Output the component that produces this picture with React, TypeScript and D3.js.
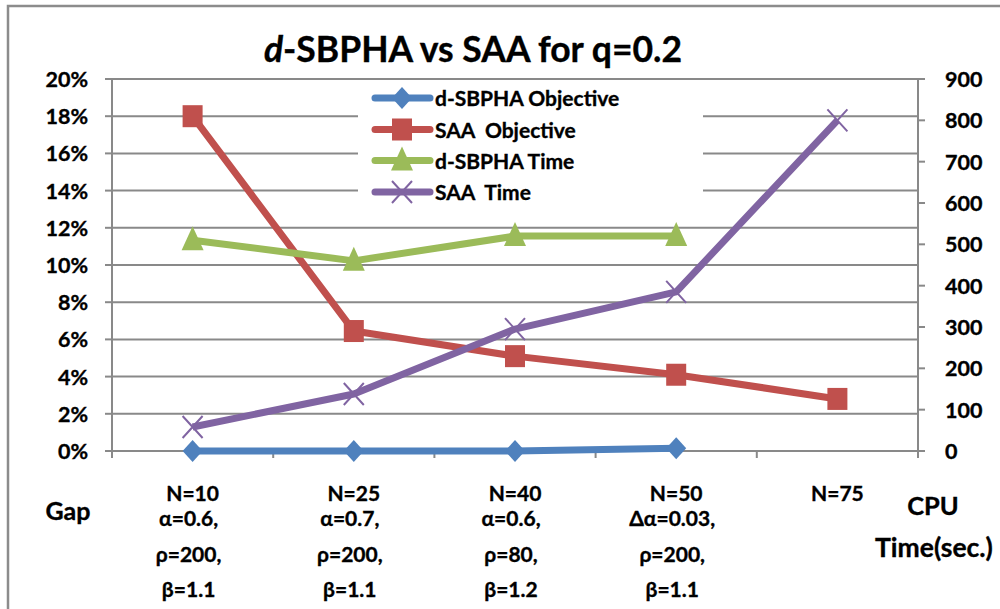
import React from "react";
import * as d3 from "d3";

// Categories and the parameter settings printed under each one
const categories = ["N=10", "N=25", "N=40", "N=50", "N=75"];
const paramLines: string[][] = [
  ["α=0.6,", "ρ=200,", "β=1.1"],
  ["α=0.7,", "ρ=200,", "β=1.1"],
  ["α=0.6,", "ρ=80,", "β=1.2"],
  ["Δα=0.03,", "ρ=200,", "β=1.1"],
  [],
];

// Gap series (left axis, fraction)
const dsbphaObjective = [0, 0, 0, 0.0015];
const saaObjective = [0.18, 0.0645, 0.051, 0.041, 0.028];

// CPU time series (right axis, seconds)
const dsbphaTime = [510, 460, 520, 520];
const saaTime = [58, 138, 295, 385, 800];

// Axis ticks
const leftTicks = [0, 0.02, 0.04, 0.06, 0.08, 0.1, 0.12, 0.14, 0.16, 0.18, 0.2];
const rightTicks = [0, 100, 200, 300, 400, 500, 600, 700, 800, 900];

const legendItems = [
  { label: "d-SBPHA Objective", color: "#4F81BD", marker: "diamond" },
  { label: "SAA  Objective", color: "#C0504D", marker: "square" },
  { label: "d-SBPHA Time", color: "#9BBB59", marker: "triangle" },
  { label: "SAA  Time", color: "#8064A2", marker: "x" },
];

const FONT = "Lato, 'Open Sans', 'DejaVu Sans', sans-serif";
const GRID = "#898989";

function Marker({ kind, x, y, color }: { kind: string; x: number; y: number; color: string }) {
  if (kind === "diamond") {
    return (
      <path
        d={`M${x},${y - 11} L${x + 10},${y} L${x},${y + 11} L${x - 10},${y} Z`}
        fill={color}
      />
    );
  }
  if (kind === "square") {
    return <rect x={x - 10} y={y - 11} width={20} height={22} fill={color} />;
  }
  if (kind === "triangle") {
    return (
      <path d={`M${x},${y - 14} L${x + 11},${y + 10} L${x - 11},${y + 10} Z`} fill={color} />
    );
  }
  return (
    <path
      d={`M${x - 10},${y - 11} L${x + 10},${y + 11} M${x + 10},${y - 11} L${x - 10},${y + 11}`}
      stroke={color}
      strokeWidth={2}
      fill="none"
    />
  );
}

export default function App() {
  const left = 112;
  const right = 918;
  const top = 79;
  const bottom = 451;

  const x = d3.scaleBand<string>().domain(categories).range([left, right]);
  const cx = (i: number) => (x(categories[i]) as number) + x.bandwidth() / 2;
  const yL = d3.scaleLinear().domain([0, 0.2]).range([bottom, top]);
  const yR = d3.scaleLinear().domain([0, 900]).range([bottom, top]);

  const series = [
    { values: dsbphaObjective, scale: yL, ...legendItems[0] },
    { values: saaObjective, scale: yL, ...legendItems[1] },
    { values: dsbphaTime, scale: yR, ...legendItems[2] },
    { values: saaTime, scale: yR, ...legendItems[3] },
  ];

  const legendBox = { x: 358, y: 84, w: 345, h: 125 };
  const legendRowY = [98, 129.5, 160.5, 192];

  const boundaries = [left, ...categories.map((c) => (x(c) as number) + x.bandwidth())];

  const txt = { fill: "#000", stroke: "#000", strokeWidth: 0.35, fontWeight: 700 as const };

  return (
    <svg width={1000} height={609} style={{ position: "absolute", left: 0, top: 0 }} fontFamily={FONT}>
      <rect x={0} y={0} width={1000} height={609} fill="#fff" />
      {/* chart frame */}
      <path d="M8,612 L8,6 L1004,6" fill="none" stroke="#8c8c8c" strokeWidth={2.5} />

      {/* title */}
      <text x={473} y={62} textAnchor="middle" fontSize={35.5} {...txt}>
        <tspan fontStyle="italic">d</tspan>-SBPHA vs SAA for q=0.2
      </text>

      {/* gridlines */}
      {leftTicks
        .filter((t) => t > 0)
        .map((t) => (
          <line key={t} x1={left} x2={right} y1={yL(t)} y2={yL(t)} stroke={GRID} strokeWidth={2} />
        ))}

      {/* legend background */}
      <rect x={legendBox.x} y={legendBox.y} width={legendBox.w} height={legendBox.h} fill="#fff" />

      {/* axes */}
      <line x1={left} x2={left} y1={top} y2={bottom + 5} stroke={GRID} strokeWidth={2} />
      <line x1={right} x2={right} y1={top} y2={bottom + 5} stroke={GRID} strokeWidth={2} />
      <line x1={left - 7} x2={right + 7} y1={bottom} y2={bottom} stroke={GRID} strokeWidth={2} />
      {leftTicks.map((t) => (
        <line key={"lt" + t} x1={left - 7} x2={left} y1={yL(t)} y2={yL(t)} stroke={GRID} strokeWidth={2} />
      ))}
      {rightTicks.map((t) => (
        <line key={"rt" + t} x1={right} x2={right + 7} y1={yR(t)} y2={yR(t)} stroke={GRID} strokeWidth={2} />
      ))}
      {boundaries.map((b, i) => (
        <line key={"xt" + i} x1={b} x2={b} y1={bottom} y2={bottom + 7} stroke={GRID} strokeWidth={2} />
      ))}

      {/* tick labels */}
      {leftTicks.map((t) => (
        <text key={"ll" + t} x={88} y={yL(t) + 8} textAnchor="end" fontSize={21.5} {...txt}>
          {d3.format(".0%")(t)}
        </text>
      ))}
      {rightTicks.map((t) => (
        <text key={"rl" + t} x={945} y={yR(t) + 8} textAnchor="start" fontSize={21.5} {...txt}>
          {t}
        </text>
      ))}

      {/* category labels */}
      {categories.map((c, i) => (
        <g key={c} fontSize={21} textAnchor="middle" {...txt}>
          <text x={cx(i)} y={501}>{c}</text>
          {paramLines[i].map((p, j) => (
            <text key={j} x={cx(i) - 4} y={[526, 562, 597][j]}>
              {p}
            </text>
          ))}
        </g>
      ))}

      {/* axis titles */}
      <text x={68} y={520} textAnchor="middle" fontSize={25} {...txt}>Gap</text>
      <text x={933} y={515} textAnchor="middle" fontSize={25.5} {...txt}>CPU</text>
      <text x={934} y={557} textAnchor="middle" fontSize={26.5} {...txt}>Time(sec.)</text>

      {/* series */}
      {series.map((s) => {
        const line = d3
          .line<number>()
          .x((_, i) => cx(i))
          .y((v) => s.scale(v));
        return (
          <g key={s.label}>
            <path d={line(s.values) || ""} fill="none" stroke={s.color} strokeWidth={7} strokeLinejoin="round" />
            {s.values.map((v, i) => (
              <Marker key={i} kind={s.marker} x={cx(i)} y={s.scale(v)} color={s.color} />
            ))}
          </g>
        );
      })}

      {/* legend */}
      {legendItems.map((it, i) => (
        <g key={it.label}>
          <line x1={375} x2={430} y1={legendRowY[i]} y2={legendRowY[i]} stroke={it.color} strokeWidth={7} strokeLinecap="round" />
          <Marker kind={it.marker} x={402} y={legendRowY[i]} color={it.color} />
          <text x={435} y={legendRowY[i] + 8} fontSize={21} style={{ whiteSpace: "pre" }} {...txt}>
            {it.label}
          </text>
        </g>
      ))}
    </svg>
  );
}
